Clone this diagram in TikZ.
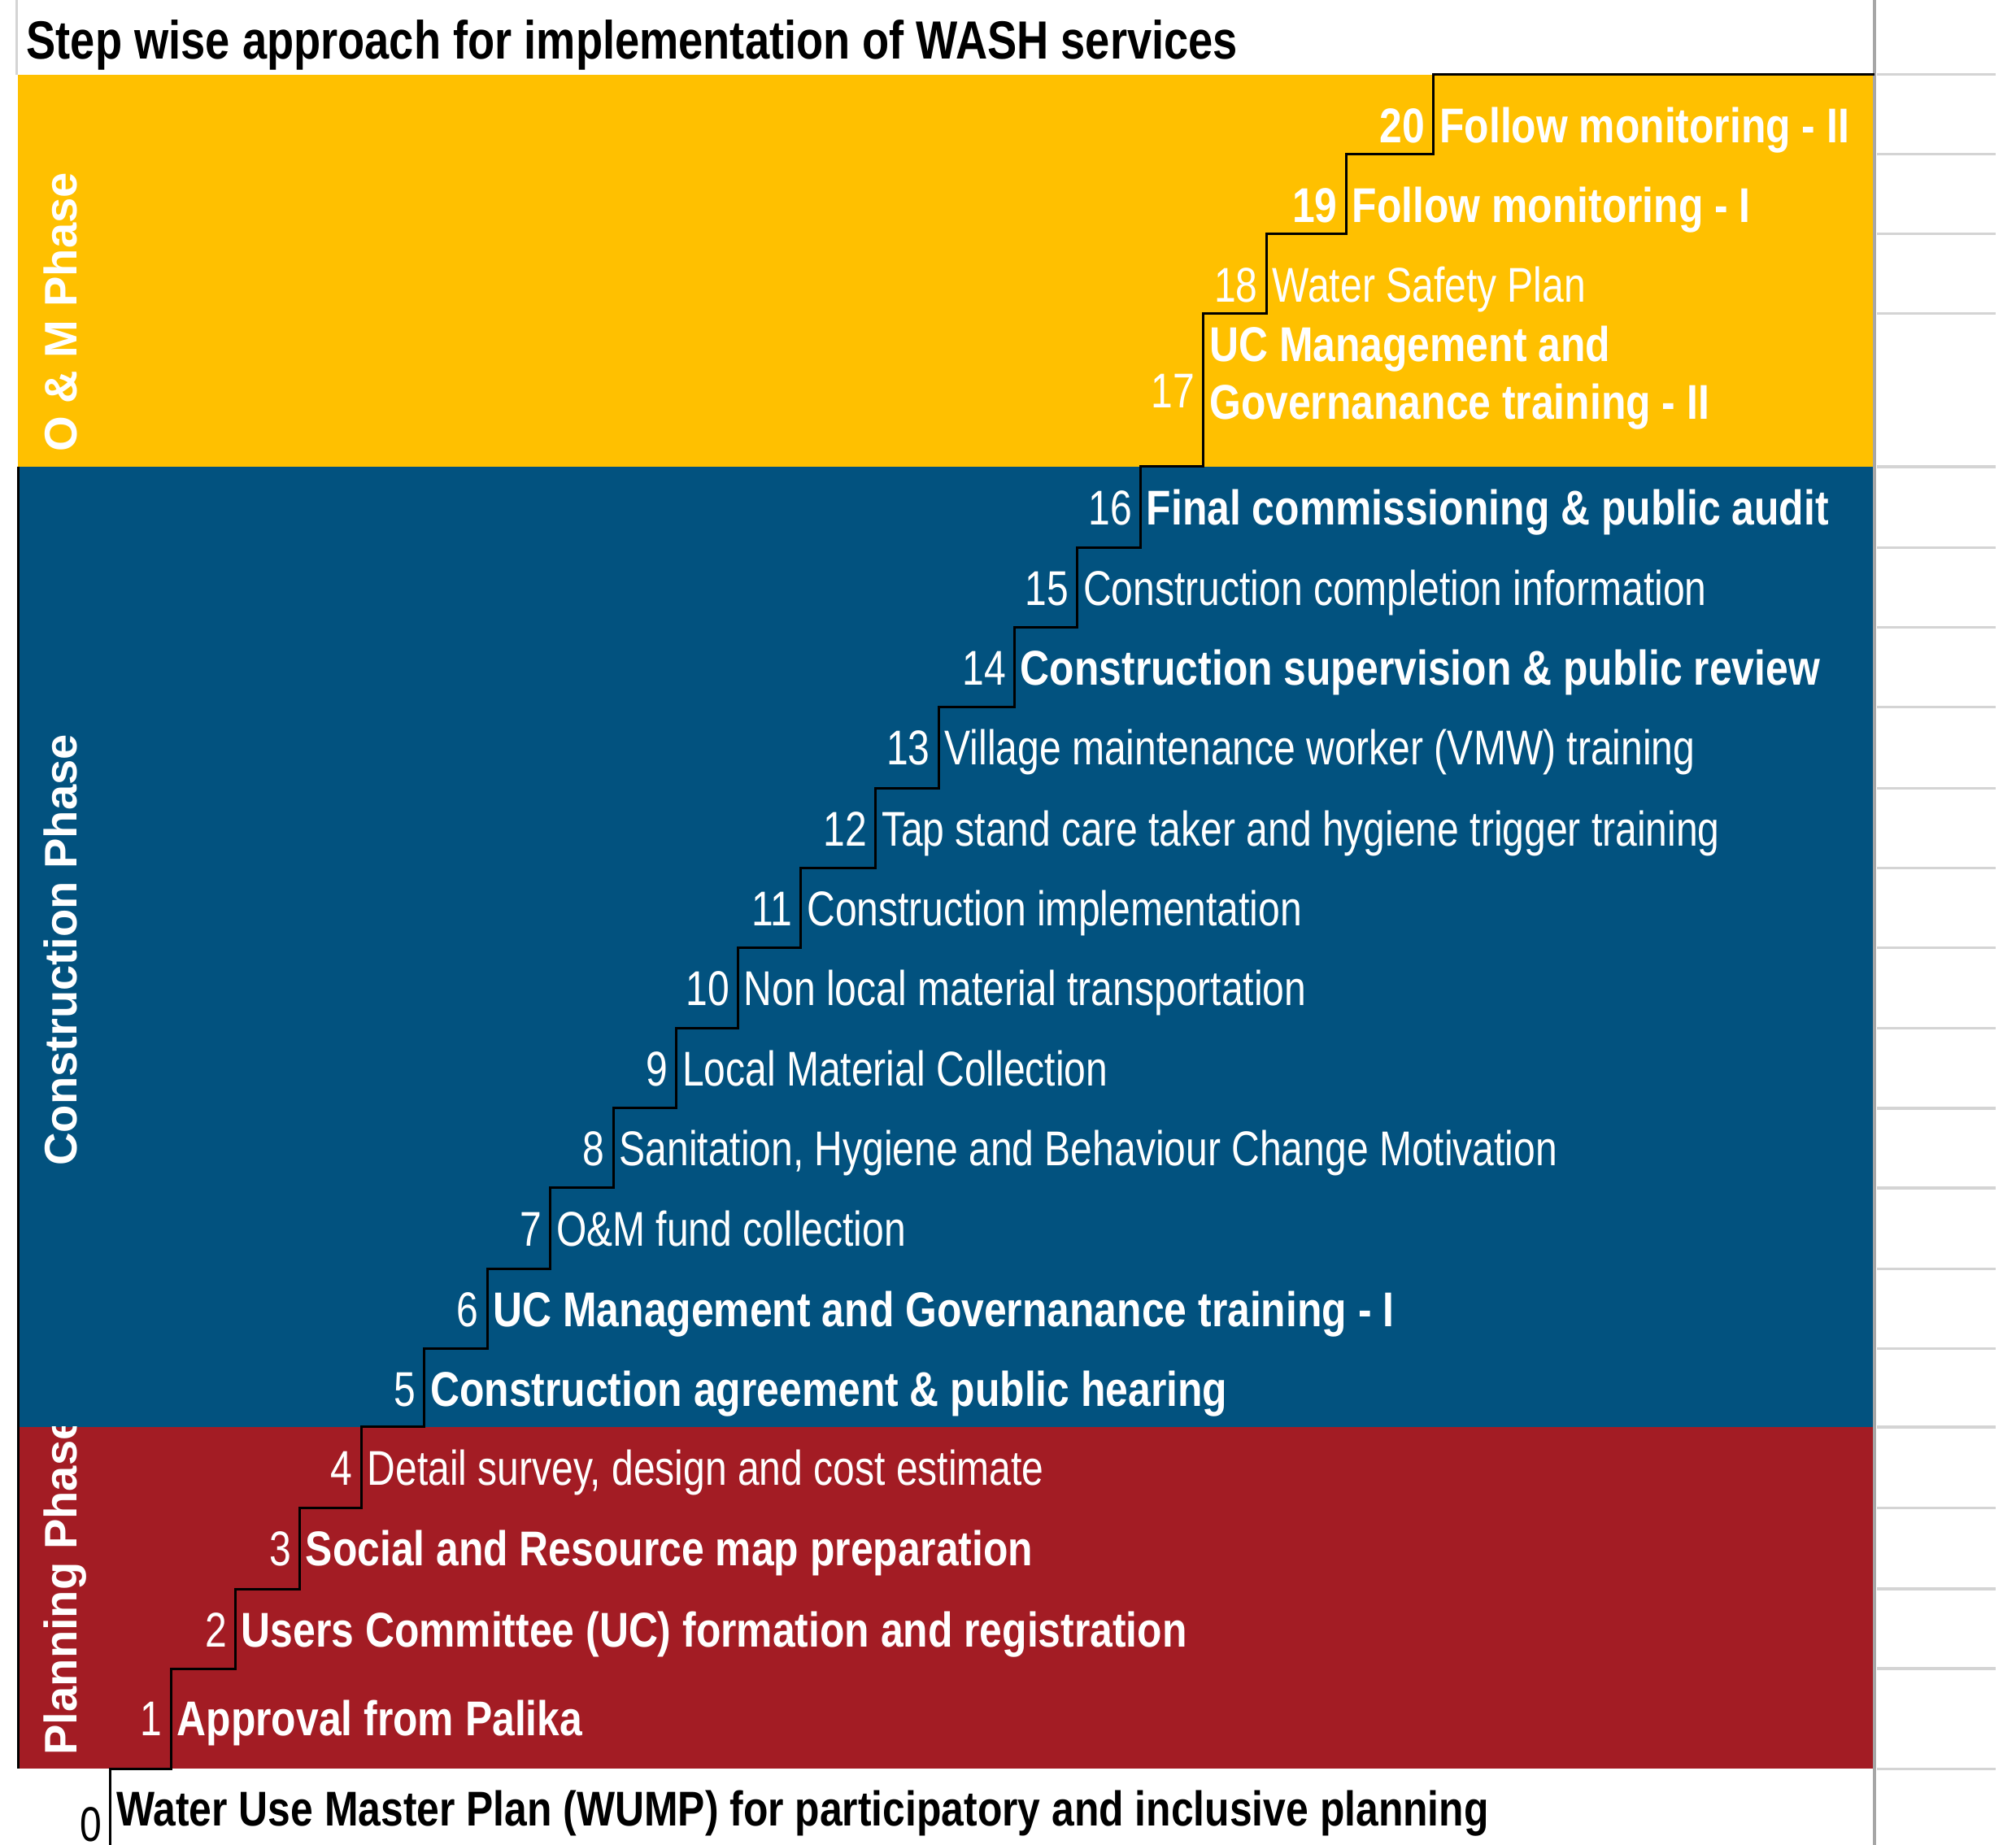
\documentclass[tikz,border=0pt]{standalone}
\usepackage{xcolor}
\usepackage{fontspec}
\setmainfont{Liberation Sans}
\newfontfamily\narrowfont{Liberation Sans}[FakeStretch=0.80]
\newfontfamily\narrowboldfont{Liberation Sans}[FakeStretch=0.83]
\newfontfamily\titlefont{Liberation Sans}[FakeStretch=0.82]
\usepackage{tikz}
\usetikzlibrary{positioning}

\definecolor{omyellow}{HTML}{FFC000}
\definecolor{conblue}{HTML}{02527F}
\definecolor{planred}{HTML}{A31C24}
\definecolor{gridgray}{HTML}{D4D4D4}
\definecolor{edgegray}{HTML}{A6A6A6}

\begin{document}
\begin{tikzpicture}[x=0.01cm,y=-0.01cm,stair/.style={line width=0.55pt,black}]
				\tikzset{num/.style={anchor=base east,inner sep=0pt,text=white,font=\narrowfont\fontsize{10.8}{13}\selectfont}}
				\tikzset{txt/.style={anchor=base west,inner sep=0pt,text=white,font=\narrowfont\fontsize{10.8}{13}\selectfont}}
				\tikzset{strong/.style={font=\narrowboldfont\bfseries\fontsize{10.8}{13}\selectfont}}
				\tikzset{light/.style={}}
				\tikzset{phase/.style={rotate=90,inner sep=0pt,text=white,font=\bfseries\fontsize{10.1}{12}\selectfont}}

				\useasboundingbox (0,0) rectangle (1568,1435);

				\fill[omyellow] (14,58) rectangle (1458,363);
				\fill[conblue] (14,363) rectangle (1458,1110);
				\fill[planred] (14,1110) rectangle (1458,1376);

				\draw[gridgray, line width=0.45pt] (13,0) -- (13,58);
				\foreach \y in {58,120,182,244,363,426,488,550,613,675,737,800,862,924,987,1049,1110,1173,1236,1298,1376}
					\draw[gridgray, line width=0.6pt] (1460,\y) -- (1552,\y);
				\draw[edgegray, line width=0.7pt] (1458,0) -- (1458,1435);
				\draw[stair] (14,363) -- (14,1376);

				\node[anchor=base west, inner sep=0pt, font=\titlefont\bfseries\fontsize{11.9}{14}\selectfont] (title) at (20,46) {Step wise approach for implementation of WASH services};

				\draw[stair] (86,1435) |- (133,1376) |- (183,1298) |- (233,1236) |- (281,1173) |- (330,1110) |- (379,1049) |- (428,987) |- (477,924) |- (526,862) |- (574,800) |- (623,737) |- (681,675) |- (730,613) |- (789,550) |- (838,488) |- (887,426) |- (936,363) |- (985,244) |- (1047,182) |- (1115,120) |- (1458,58);

				\node[num, text=black] (n0) at (80,1432) {0};
				\node[txt, strong, text=black] (t0) at (90,1420) {Water Use Master Plan (WUMP) for participatory and inclusive planning};

				\foreach \k/\x/\y/\w/\t in {1/133/1350/strong/{Approval from Palika},
					2/183/1281/strong/{Users Committee (UC) formation and registration},
					3/233/1218/strong/{Social and Resource map preparation},
					4/281/1155/light/{Detail survey, design and cost estimate},
					5/330/1094/strong/{Construction agreement \& public hearing},
					6/379/1032/strong/{UC Management and Governanance training - I},
					7/428/969/light/{O\&M fund collection},
					8/477/907/light/{Sanitation, Hygiene and Behaviour Change Motivation},
					9/526/845/light/{Local Material Collection},
					10/574/782/light/{Non local material transportation},
					11/623/720/light/{Construction implementation},
					12/681/658/light/{Tap stand care taker and hygiene trigger training},
					13/730/595/light/{Village maintenance worker (VMW) training},
					14/789/533/strong/{Construction supervision \& public review},
					15/838/471/light/{Construction completion information},
					16/887/408/strong/{Final commissioning \& public audit},
					18/985/235/light/{Water Safety Plan}}
				{
					\node[num] (n\k) at (\x-6,\y) {\k};
					\node[txt, \w] (t\k) at (\x+4,\y) {\t};
				}

				\node[num] (n17) at (930,317) {17};
				\node[txt, strong] (t17) at (940,281) {UC Management and};
				\node[txt, strong] (t17b) at (940,326) {Governanance training - II};

				\node[num, strong, anchor=base east] (n19) at (1041,173) {19};
				\node[txt, strong] (t19) at (1051,173) {Follow monitoring - I};
				\node[num, strong, anchor=base east] (n20) at (1109,111) {20};
				\node[txt, strong] (t20) at (1119,111) {Follow monitoring - II};

				\node[phase, anchor=base west] (omphase) at (60,352) {O \& M Phase};
				\node[phase, anchor=base] (conphase) at (60,739) {Construction Phase};
				\begin{scope}
					\clip (14,1110) rectangle (120,1376);
					\node[phase, anchor=base west] (planphase) at (60,1366) {Planning Phase};
				\end{scope}

			\end{tikzpicture}
\end{document}
